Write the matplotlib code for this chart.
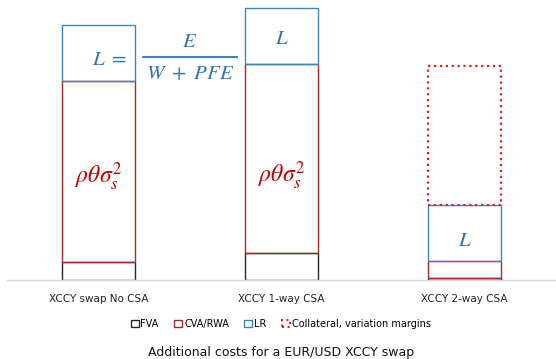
import numpy as np
import matplotlib
matplotlib.use("Agg")
from matplotlib import pyplot as plt
from matplotlib.patches import Patch

plt.rcParams['mathtext.fontset'] = 'stix'

# values (arbitrary units, baseline = 0)
categories = ["XCCY swap No CSA", "XCCY 1-way CSA", "XCCY 2-way CSA"]
fva = [18, 27, 2.5]
cva = [181, 189, 17]
lr = [56, 56, 56]
collateral = [0, 0, 139]

fva_col = '#262626'
cva_col = '#a52a2a'
lr_col = '#3c87b8'
coll_col = '#e02020'
blue_txt = '#2e74b5'
red_txt = '#c00000'

fig = plt.figure(figsize=(5.56, 3.59), dpi=100)
ax = fig.add_axes([7/556, 1 - 280/359, 549/556, 280/359])

x = np.arange(len(categories))
w = 0.404
fva = np.array(fva); cva = np.array(cva); lr = np.array(lr); collateral = np.array(collateral)

ax.bar(x, fva, w, fill=False, edgecolor=fva_col, linewidth=1.0)
ax.bar(x, cva, w, bottom=fva, fill=False, edgecolor=cva_col, linewidth=1.0)
ax.bar(x, lr, w, bottom=fva + cva, fill=False, edgecolor=lr_col, linewidth=1.0)
mask = collateral > 0
ax.bar(x[mask], collateral[mask], w, bottom=(fva + cva + lr)[mask], fill=False,
       edgecolor=coll_col, linewidth=1.6, linestyle=':')

ax.set_xlim(-0.5, 2.5)
ax.set_ylim(0, 280)
ax.set_xticks(x)
ax.set_xticklabels(categories, fontsize=7.5, color='#222222')
ax.tick_params(axis='x', length=0, pad=10)
ax.set_yticks([])
for s in ['top', 'left', 'right']:
    ax.spines[s].set_visible(False)
ax.spines['bottom'].set_color('#d9d9d9')
ax.spines['bottom'].set_linewidth(1.0)

# formulas (L = E / (W + PFE) written next to the first bar)
ax.text(0.06, 221, r"$L\ =$", color=blue_txt, fontsize=15, ha='center', va='center')
ax.text(0.5, 239, r"$E$", color=blue_txt, fontsize=15, ha='center', va='center')
ax.text(0.5, 207, r"$W\ +\ PFE$", color=blue_txt, fontsize=15, ha='center', va='center')
ax.plot([0.245, 0.755], [223, 223], color=blue_txt, linewidth=1.3)
ax.text(1, 242, r"$L$", color=blue_txt, fontsize=15, ha='center', va='center')
ax.text(2, 40, r"$L$", color=blue_txt, fontsize=15, ha='center', va='center')
ax.text(0, 103, r"$\rho\theta\sigma_s^2$", color=red_txt, fontsize=17, ha='center', va='center')
ax.text(1, 104, r"$\rho\theta\sigma_s^2$", color=red_txt, fontsize=17, ha='center', va='center')

handles = [Patch(facecolor='none', edgecolor=fva_col, label='FVA'),
           Patch(facecolor='none', edgecolor=cva_col, label='CVA/RWA'),
           Patch(facecolor='none', edgecolor=lr_col, label='LR'),
           Patch(facecolor='none', edgecolor=coll_col, linestyle=':', linewidth=1.5,
                 label='Collateral, variation margins')]
fig.legend(handles=handles, loc='center', bbox_to_anchor=(0.505, 0.0975), ncol=4,
           frameon=False, fontsize=7, handlelength=0.8, handleheight=0.8,
           handletextpad=0.2, columnspacing=1.6)

fig.text(0.505, 0.017, "Additional costs for a EUR/USD XCCY swap", fontsize=9,
         ha='center', va='center', color='#111111')

fig.savefig("out.png", dpi=100)
